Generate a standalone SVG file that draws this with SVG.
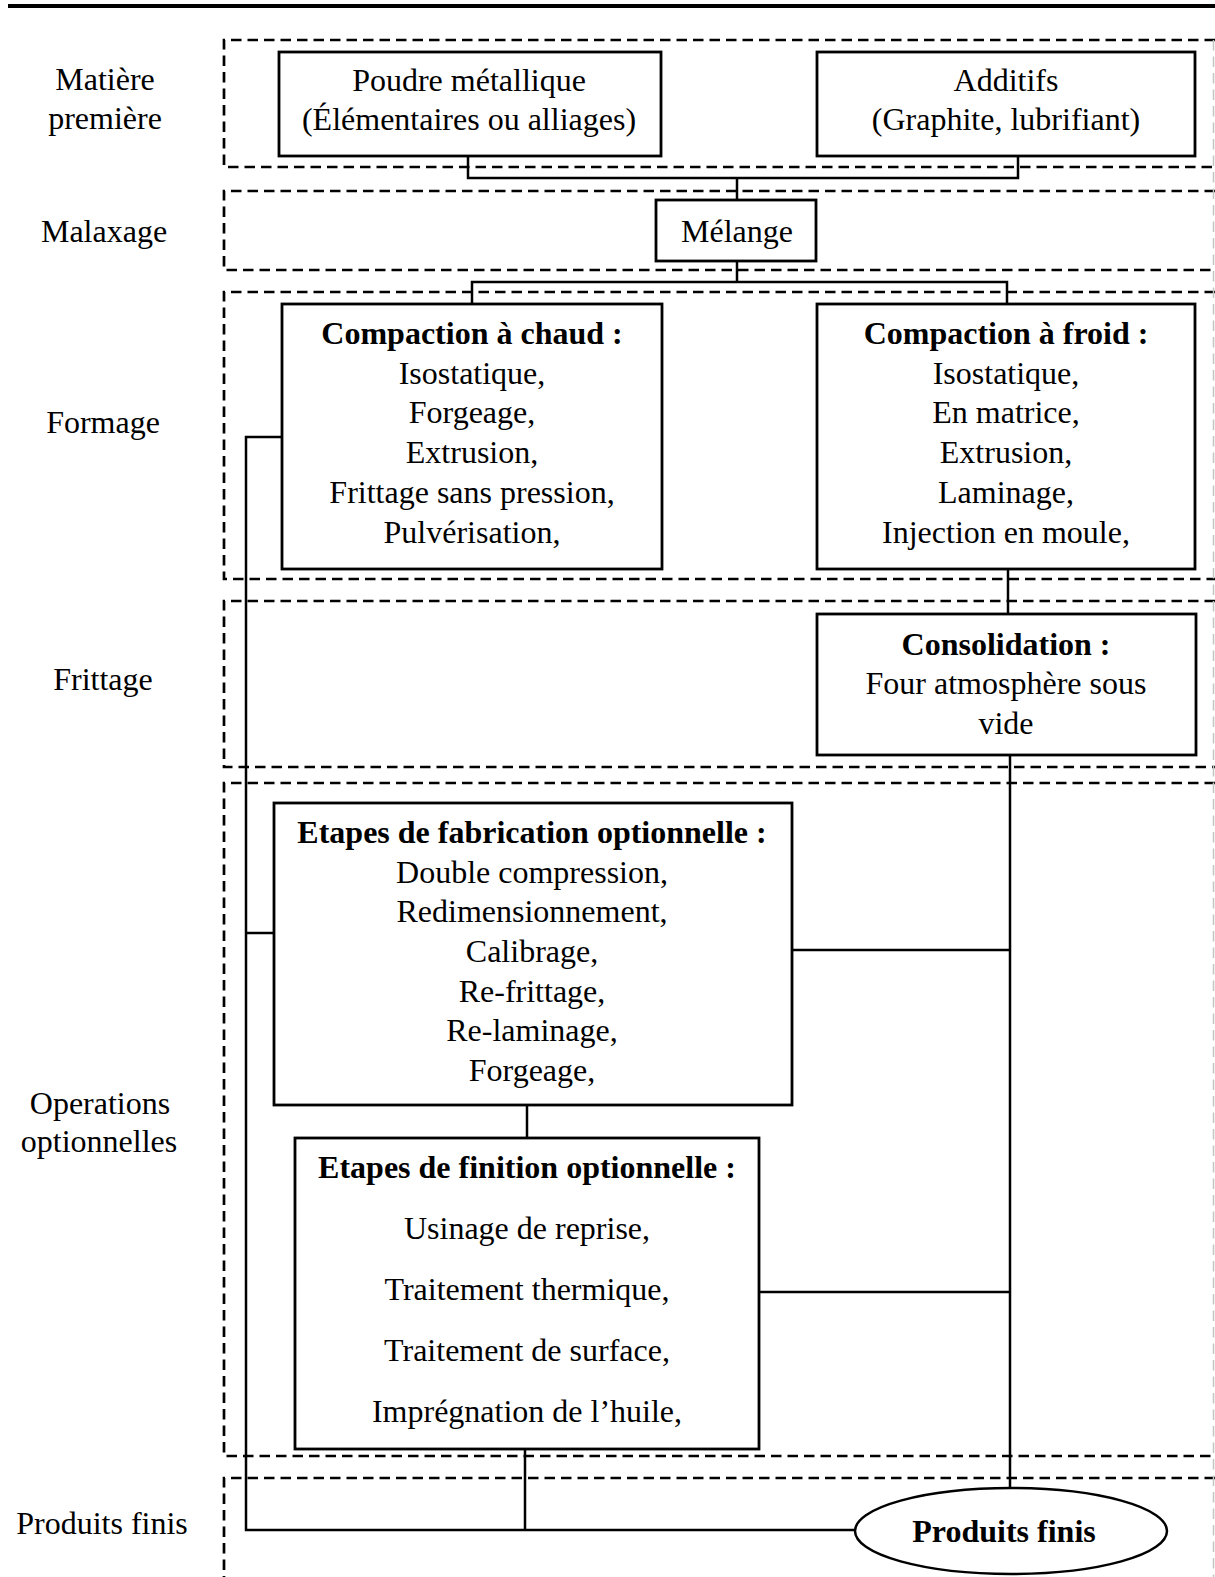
<svg xmlns="http://www.w3.org/2000/svg" width="1215" height="1577" viewBox="0 0 1215 1577">
<style>
.band{fill:none;stroke:#000;stroke-width:2.7;stroke-dasharray:10.5 6}
.edge{fill:none;stroke:#c4c4c4;stroke-width:1.5;stroke-dasharray:10.5 6}
.box{fill:#fff;stroke:#000;stroke-width:2.8}
.conn{fill:none;stroke:#000;stroke-width:2.5}
text{font-family:"Liberation Serif","Times New Roman",serif;font-size:32px;text-anchor:middle;fill:#000}
.b{font-weight:bold}
</style>
<rect x="0" y="0" width="1215" height="1577" fill="#fff"/>
<line x1="8" y1="6" x2="1215" y2="6" stroke="#000" stroke-width="4"/>
<g id="bands">
<path class="band" d="M1215,40 H224 V167 H1215"/>
<path class="band" d="M1215,191 H224 V270 H1215"/>
<path class="band" d="M1215,292 H224 V579 H1215"/>
<path class="band" d="M1215,601 H224 V767 H1215"/>
<path class="band" d="M1215,783 H224 V1456 H1215"/>
<path class="band" d="M1215,1478 H224 V1577"/>
<line class="edge" x1="1213.5" y1="40" x2="1213.5" y2="1577"/>
</g>
<g id="lane-labels">
<text x="105" y="90">Matière</text>
<text x="105" y="129">première</text>
<text x="104" y="242">Malaxage</text>
<text x="103" y="433">Formage</text>
<text x="103" y="690">Frittage</text>
<text x="100" y="1114">Operations</text>
<text x="99" y="1152">optionnelles</text>
<text x="102" y="1534">Produits finis</text>
</g>
<g id="connectors">
<path class="conn" d="M468,156 V178 H1018 V156"/>
<path class="conn" d="M737,178 V200"/>
<path class="conn" d="M737,261 V282"/>
<path class="conn" d="M472,304 V282 H1007 V304"/>
<path class="conn" d="M1008,569 V614"/>
<path class="conn" d="M1010,755 V1488"/>
<path class="conn" d="M282,437 H246 V1530 H855"/>
<path class="conn" d="M274,933 H246"/>
<path class="conn" d="M792,950 H1010"/>
<path class="conn" d="M527,1105 V1138"/>
<path class="conn" d="M759,1292 H1010"/>
<path class="conn" d="M525,1449 V1530"/>
</g>
<g id="poudre">
<rect class="box" x="279" y="52" width="382" height="104"/>
<text x="469" y="91">Poudre métallique</text>
<text x="469" y="130">(Élémentaires ou alliages)</text>
</g>
<g id="additifs">
<rect class="box" x="817" y="52" width="378" height="104"/>
<text x="1006" y="91">Additifs</text>
<text x="1006" y="130">(Graphite, lubrifiant)</text>
</g>
<g id="melange">
<rect class="box" x="656" y="200" width="160" height="61"/>
<text x="737" y="242">Mélange</text>
</g>
<g id="chaud">
<rect class="box" x="282" y="304" width="380" height="265"/>
<text class="b" x="472" y="344">Compaction à chaud :</text>
<text x="472" y="384">Isostatique,</text>
<text x="472" y="423">Forgeage,</text>
<text x="472" y="463">Extrusion,</text>
<text x="472" y="503">Frittage sans pression,</text>
<text x="472" y="543">Pulvérisation,</text>
</g>
<g id="froid">
<rect class="box" x="817" y="304" width="378" height="265"/>
<text class="b" x="1006" y="344">Compaction à froid :</text>
<text x="1006" y="384">Isostatique,</text>
<text x="1006" y="423">En matrice,</text>
<text x="1006" y="463">Extrusion,</text>
<text x="1006" y="503">Laminage,</text>
<text x="1006" y="543">Injection en moule,</text>
</g>
<g id="consolidation">
<rect class="box" x="817" y="614" width="379" height="141"/>
<text class="b" x="1006" y="655">Consolidation :</text>
<text x="1006" y="694">Four atmosphère sous</text>
<text x="1006" y="734">vide</text>
</g>
<g id="fabrication">
<rect class="box" x="274" y="803" width="518" height="302"/>
<text class="b" x="532" y="843">Etapes de fabrication optionnelle :</text>
<text x="532" y="883">Double compression,</text>
<text x="532" y="922">Redimensionnement,</text>
<text x="532" y="962">Calibrage,</text>
<text x="532" y="1002">Re-frittage,</text>
<text x="532" y="1041">Re-laminage,</text>
<text x="532" y="1081">Forgeage,</text>
</g>
<g id="finition">
<rect class="box" x="295" y="1138" width="464" height="311"/>
<text class="b" x="527" y="1178">Etapes de finition optionnelle :</text>
<text x="527" y="1239">Usinage de reprise,</text>
<text x="527" y="1300">Traitement thermique,</text>
<text x="527" y="1361">Traitement de surface,</text>
<text x="527" y="1422">Imprégnation de l’huile,</text>
</g>
<g id="produits">
<ellipse cx="1011" cy="1531" rx="156" ry="43" fill="#fff" stroke="#000" stroke-width="2.5"/>
<text class="b" x="1004" y="1542">Produits finis</text>
</g>
</svg>
